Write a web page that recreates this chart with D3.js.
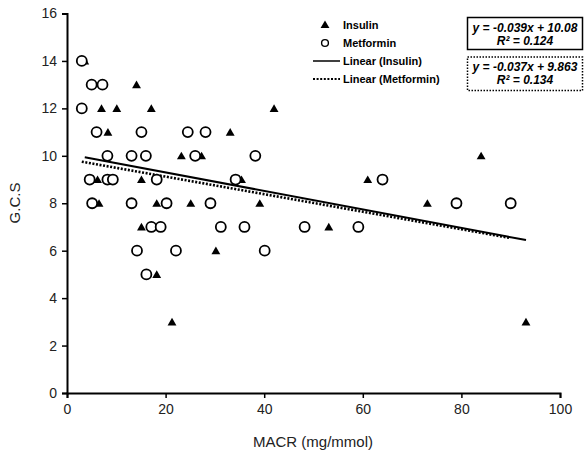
<!DOCTYPE html>
<html><head><meta charset="utf-8">
<script src="https://cdn.jsdelivr.net/npm/d3@7"></script>
<style>body{margin:0;background:#fff}svg{display:block}text{font-family:"Liberation Sans",Arial,sans-serif}</style>
</head><body><svg id="c" width="585" height="462"></svg>
<script>
const insulinX = [3.6, 14.1, 7.0, 10.1, 17.1, 42.0, 8.3, 33.1, 23.2, 27.3, 84.0, 6.2, 15.1, 35.4, 61.0, 6.5, 18.2, 25.1, 39.1, 73.1, 15.1, 53.1, 30.2, 18.2, 21.3, 93.1];
const insulinY = [14, 13, 12, 12, 12, 12, 11, 11, 10, 10, 10, 9, 9, 9, 9, 8, 8, 8, 8, 8, 7, 7, 6, 5, 3, 3];
const metforminX = [3.0, 5.0, 7.2, 3.0, 6.0, 15.1, 24.5, 28.1, 8.2, 13.1, 16.0, 26.0, 38.2, 4.6, 8.2, 9.3, 18.2, 34.2, 64.0, 5.1, 13.1, 20.2, 29.1, 79.0, 90.0, 17.1, 19.0, 31.2, 36.0, 48.2, 59.1, 14.2, 22.1, 40.1, 16.1];
const metforminY = [14, 13, 13, 12, 11, 11, 11, 11, 10, 10, 10, 10, 10, 9, 9, 9, 9, 9, 9, 8, 8, 8, 8, 8, 8, 7, 7, 7, 7, 7, 7, 6, 6, 6, 5];
const fitSlope = [-0.039, -0.037];
const fitIntercept = [10.08, 9.863];
const eqLines = [["y = -0.039x + 10.08", "R² = 0.124"], ["y = -0.037x + 9.863", "R² = 0.134"]];
const legendLabels = ["Insulin", "Metformin", "Linear (Insulin)", "Linear (Metformin)"];
const xTicks = [0, 20, 40, 60, 80, 100];
const yTicks = [0, 2, 4, 6, 8, 10, 12, 14, 16];
const xTitle = "MACR (mg/mmol)";
const yTitle = "G.C.S";

const svg = d3.select("#c");
const x = d3.scaleLinear().domain([0, 100]).range([67, 560]);
const y = d3.scaleLinear().domain([0, 16]).range([393, 13.5]);

// axes
const xa = svg.append("g").attr("transform", `translate(0,${y(0)})`)
  .call(d3.axisBottom(x).tickValues(xTicks).tickSize(5).tickPadding(6).tickFormat(d3.format("d")));
const ya = svg.append("g").attr("transform", `translate(${x(0)},0)`)
  .call(d3.axisLeft(y).tickValues(yTicks).tickSize(5).tickPadding(5).tickFormat(d3.format("d")));
[xa, ya].forEach(a => {
  a.select(".domain").attr("stroke", "#000").attr("stroke-width", 2);
  a.selectAll(".tick line").attr("stroke", "#000").attr("stroke-width", 1.5);
  a.selectAll(".tick text").attr("font-size", 14).attr("fill", "#222");
});

svg.append("text").attr("x", 313).attr("y", 447).attr("text-anchor", "middle")
  .attr("font-size", 15).attr("fill", "#222").text(xTitle);
svg.append("text").attr("transform", "translate(20,203) rotate(-90)").attr("text-anchor", "middle")
  .attr("font-size", 15).attr("fill", "#222").text(yTitle);

// regression lines
const series = [{xs: insulinX}, {xs: metforminX}];
series.forEach((s, i) => {
  const ext = d3.extent(s.xs);
  const pts = ext.map(v => [x(v), y(fitIntercept[i] + fitSlope[i] * v)]);
  svg.append("path").attr("d", d3.line()(pts)).attr("fill", "none").attr("stroke", "#000")
    .attr("stroke-width", i === 0 ? 2 : 2.6)
    .attr("stroke-dasharray", i === 0 ? null : "2,1.6");
});

// points
const tri = d3.symbol().type(d3.symbolTriangle).size(34);
const mData = metforminX.map((v, i) => [v, metforminY[i]]);
const iData = insulinX.map((v, i) => [v, insulinY[i]]);
svg.append("g").selectAll("path").data(iData).join("path")
  .attr("d", tri).attr("transform", d => `translate(${x(d[0])},${y(d[1]) + 1})`).attr("fill", "#000");
svg.append("g").selectAll("circle").data(mData).join("circle")
  .attr("cx", d => x(d[0])).attr("cy", d => y(d[1])).attr("r", 5)
  .attr("fill", "#fff").attr("stroke", "#000").attr("stroke-width", 1.8);

// legend
const lg = svg.append("g").attr("font-size", 11).attr("font-weight", "bold").attr("fill", "#000");
const ly = [25, 43, 61, 79];
lg.append("path").attr("d", d3.symbol().type(d3.symbolTriangle).size(34)).attr("transform", `translate(325,${ly[0] + 0.5})`).attr("fill", "#000");
lg.append("circle").attr("cx", 325).attr("cy", ly[1]).attr("r", 3.4).attr("fill", "#fff").attr("stroke", "#000").attr("stroke-width", 1.4);
lg.append("line").attr("x1", 313).attr("x2", 340).attr("y1", ly[2]).attr("y2", ly[2]).attr("stroke", "#000").attr("stroke-width", 1.5);
lg.append("line").attr("x1", 313).attr("x2", 340).attr("y1", ly[3]).attr("y2", ly[3]).attr("stroke", "#000").attr("stroke-width", 2).attr("stroke-dasharray", "2,1.6");
legendLabels.forEach((t, i) => lg.append("text").attr("x", 343).attr("y", ly[i] + 4).text(t));

// equation boxes
const boxes = [{y0: 17.5, y1: 49.5, dash: null}, {y0: 57, y1: 90.5, dash: "1.5,1.5"}];
boxes.forEach((b, i) => {
  svg.append("rect").attr("x", 467.5).attr("y", b.y0).attr("width", 115).attr("height", b.y1 - b.y0)
    .attr("fill", "#fff").attr("stroke", "#000").attr("stroke-width", 1.5).attr("stroke-dasharray", b.dash);
  eqLines[i].forEach((t, j) => svg.append("text").attr("x", 525).attr("y", b.y0 + 14 + j * 13)
    .attr("text-anchor", "middle").attr("font-size", 12).attr("font-weight", "bold").attr("font-style", "italic").text(t));
});
</script></body></html>
